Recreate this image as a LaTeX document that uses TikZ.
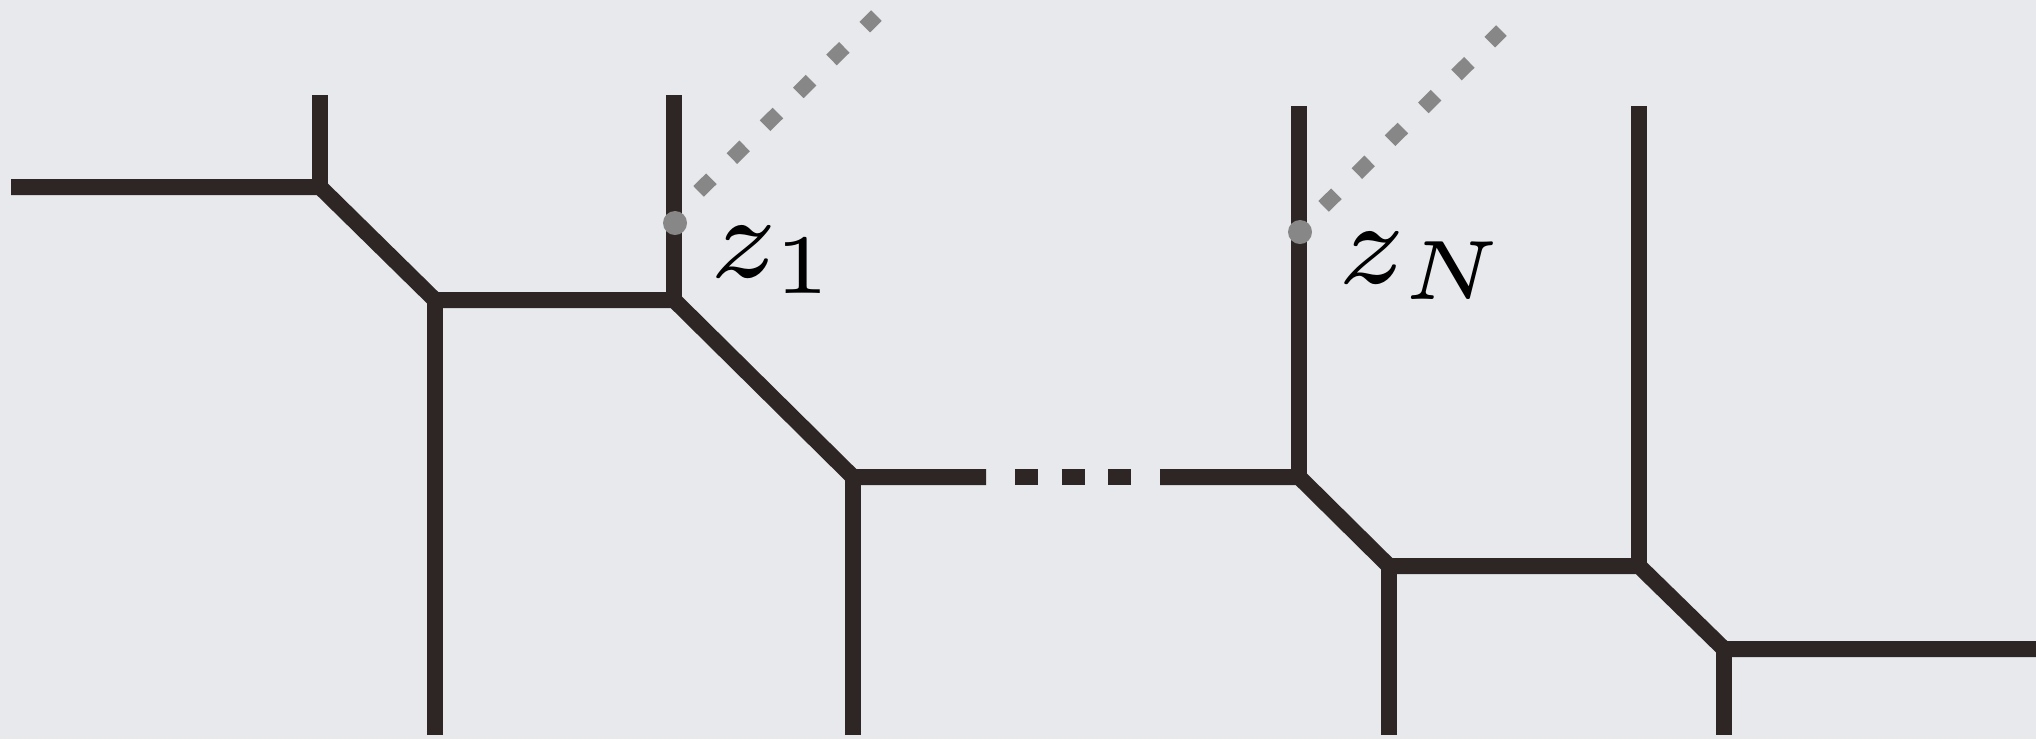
\documentclass[tikz,border=0pt]{standalone}
\usetikzlibrary{positioning}

\definecolor{bgcol}{RGB}{231,233,236}
\definecolor{ink}{RGB}{46,38,36}
\definecolor{shade}{RGB}{135,135,135}

\tikzset{
  brane/.style={draw=ink, line width=0.16cm},
  ghostline/.style={draw=shade, line width=0.15cm, dash pattern=on 0.18cm off 0.287cm},
  marker/.style={circle, fill=shade, inner sep=0pt, minimum size=0.24cm},
  zlabel/.style={font=\scriptsize, scale=4.8, anchor=base west, inner sep=0pt, text=black}
}

\begin{document}
\begin{tikzpicture}[x=0.01cm, y=-0.01cm]
  \fill[bgcol] (0,0) rectangle (2036,739);
  \useasboundingbox (0,0) rectangle (2036,739);
  % vertices of the web
  \coordinate (l0) at (11,187);
  \coordinate (a) at (320,187);
  \coordinate (b) at (435,300);
  \coordinate (c) at (674,300);
  \coordinate (d) at (853,477);
  \coordinate (dend) at (986,477);    % break before the dots
  \coordinate (estart) at (1160,477); % and after them
  \coordinate (e) at (1299,477);
  \coordinate (f) at (1389,566);
  \coordinate (g) at (1639,566);
  \coordinate (h) at (1724,649);
  \coordinate (r0) at (2036,649);
  \coordinate (dots1) at (1015,477);
  \coordinate (dots2) at (1132,477);
  % open ends of the legs
  \foreach \v/\y in {a/95, c/95, e/106, g/106} {
    \coordinate (\v top) at (\v |- 0,\y);
  }
  \foreach \v in {b, d, f, h} {
    \coordinate (\v bot) at (\v |- 0,735);
  }
  % the web itself
  \draw[brane] (l0) -- (a) -- (b) -- (c) -- (d) -- (dend);
  \draw[brane] (estart) -- (e) -- (f) -- (g) -- (h) -- (r0);
  \draw[brane, dash pattern=on 0.23cm off 0.235cm] (dots1) -- (dots2);
  \foreach \v in {a, c, e, g} {
    \draw[brane] (\v) -- (\v top);
  }
  \foreach \v in {b, d, f, h} {
    \draw[brane] (\v) -- (\v bot);
  }
  % punctures and their grey lines
  \coordinate (g1s) at (698.6,191.4);
  \coordinate (g1e) at (876.4,15.6);
  \coordinate (gNs) at (1323.6,206.4);
  \coordinate (gNe) at (1501.4,30.6);
  \draw[ghostline] (g1s) -- (g1e);
  \draw[ghostline] (gNs) -- (gNe);
  \node[marker] (p1) at (675,223) {};
  \node[marker] (pN) at (1300,232) {};
  \node[zlabel] (l1) at (706,277) {$z_1$};
  \node[zlabel] (lN) at (1334,283) {$z_N$};
\end{tikzpicture}
\end{document}
